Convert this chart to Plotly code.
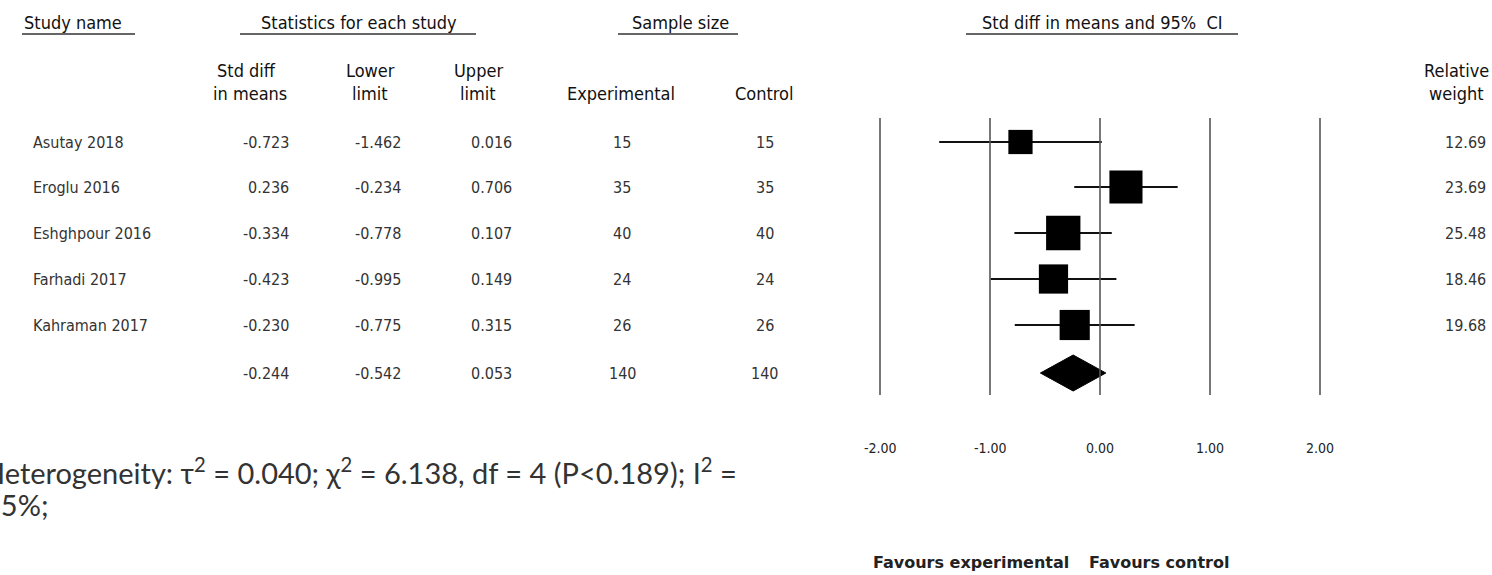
import plotly.graph_objects as go

# ---------------- data ----------------
studies = ["Asutay 2018", "Eroglu 2016", "Eshghpour 2016", "Farhadi 2017", "Kahraman 2017"]
std_diff = [-0.723, 0.236, -0.334, -0.423, -0.230]
lower = [-1.462, -0.234, -0.778, -0.995, -0.775]
upper = [0.016, 0.706, 0.107, 0.149, 0.315]
n_exp = [15, 35, 40, 24, 26]
n_ctl = [15, 35, 40, 24, 26]
rel_weight = [12.69, 23.69, 25.48, 18.46, 19.68]

total_est = -0.244
total_lower = -0.542
total_upper = 0.053
total_exp = 140
total_ctl = 140

tick_vals = [-2, -1, 0, 1, 2]
tick_text = ["-2.00", "-1.00", "0.00", "1.00", "2.00"]

heterogeneity_1 = "Heterogeneity: τ<sup>2</sup> = 0.040; χ<sup>2</sup> = 6.138, df = 4 (P&lt;0.189); I<sup>2</sup> ="
heterogeneity_2 = "35%;"

# ---------------- layout constants (pixels) ----------------
W, H = 1492, 575
X0_PX, UNIT_PX = 1100, 110           # pixel of 0.00 and pixels per unit on effect axis
row_y = [142, 187, 233, 279, 325, 373]  # study rows + total row

TXT = "DejaVu Sans Condensed, Liberation Sans, Arial, sans-serif"
col_txt = "#333333"

def px(x):
    return x / W

fig = go.Figure()

# vertical reference lines
shapes = []
for t in tick_vals:
    shapes.append(dict(type="line", xref="x", yref="y", x0=t, x1=t, y0=118, y1=395,
                       line=dict(color="#555555", width=1.6)))

# header underlines
for a, b in [(22, 135), (240, 476), (618, 738), (966, 1238)]:
    shapes.append(dict(type="line", xref="paper", yref="y", x0=px(a), x1=px(b), y0=34, y1=34,
                       line=dict(color="#666666", width=2)))

# CI lines
for i in range(len(studies)):
    fig.add_trace(go.Scatter(x=[lower[i], upper[i]], y=[row_y[i], row_y[i]], mode="lines",
                             line=dict(color="#111111", width=2), hoverinfo="skip", showlegend=False))

# squares sized by weight
sizes = [6.8 * (w ** 0.5) for w in rel_weight]
fig.add_trace(go.Scatter(x=std_diff, y=row_y[:5], mode="markers",
                         marker=dict(symbol="square", size=sizes, color="#000000", opacity=1,
                                     line=dict(width=0)),
                         showlegend=False))

# summary diamond
dy = 18
fig.add_trace(go.Scatter(x=[total_lower, total_est, total_upper, total_est, total_lower],
                         y=[row_y[5], row_y[5] - dy, row_y[5], row_y[5] + dy, row_y[5]],
                         mode="lines", fill="toself", fillcolor="#000000",
                         line=dict(color="#000000", width=1), showlegend=False))

ann = []
def add(text, x, y, size=16, anchor="center", color=col_txt, family=TXT, xref="paper", weight=None):
    f = dict(size=size, color=color, family=family)
    if weight:
        f["weight"] = weight
    ann.append(dict(text=text, x=px(x) if xref == "paper" else x, y=y, xref=xref, yref="y",
                    xanchor=anchor, yanchor="middle", showarrow=False, font=f))

# headers
hcol = "#111111"
add("Study name", 22, 22, 18, "left", hcol)
add("Statistics for each study", 359, 22, 18, "center", hcol)
add("Sample size", 680, 22, 18, "center", hcol)
add("Std diff in means and 95%  CI", 1102, 22, 18, "center", hcol)

add("Std diff", 246, 70, 18, "center", hcol)
add("in means", 250, 93, 18, "center", hcol)
add("Lower", 370, 70, 18, "center", hcol)
add("limit", 370, 93, 18, "center", hcol)
add("Upper", 478, 70, 18, "center", hcol)
add("limit", 478, 93, 18, "center", hcol)
add("Experimental", 621, 93, 18, "center", hcol)
add("Control", 764, 93, 18, "center", hcol)
add("Relative", 1456, 70, 18, "center", hcol)
add("weight", 1456, 93, 18, "center", hcol)

# rows
for i, s in enumerate(studies):
    y = row_y[i]
    add(s, 31, y, 16, "left")
    add(f"{std_diff[i]:.3f}", 291, y, 16, "right")
    add(f"{lower[i]:.3f}", 403, y, 16, "right")
    add(f"{upper[i]:.3f}", 514, y, 16, "right")
    add(str(n_exp[i]), 622, y, 16, "center")
    add(str(n_ctl[i]), 765, y, 16, "center")
    add(f"{rel_weight[i]:.2f}", 1488, y, 16, "right")

y = row_y[5]
add(f"{total_est:.3f}", 291, y, 16, "right")
add(f"{total_lower:.3f}", 403, y, 16, "right")
add(f"{total_upper:.3f}", 514, y, 16, "right")
add(str(total_exp), 622, y, 16, "center")
add(str(total_ctl), 765, y, 16, "center")

# axis tick labels
for v, t in zip(tick_vals, tick_text):
    add(t, v, 448, 14, "center", "#222222", xref="x")

# heterogeneity
HF = "Lato, Open Sans, sans-serif"
add(heterogeneity_1, -19, 471, 29, "left", "#333333", family=HF)
add(heterogeneity_2, -18, 504, 29, "left", "#333333", family=HF)

# favours
add("Favours experimental", 871, 562, 16, "left", "#222222", family="DejaVu Sans, sans-serif", weight="bold")
add("Favours control", 1087, 562, 16, "left", "#222222", family="DejaVu Sans, sans-serif", weight="bold")

fig.update_layout(
    width=W, height=H,
    margin=dict(l=0, r=0, t=0, b=0),
    paper_bgcolor="white", plot_bgcolor="white",
    xaxis=dict(range=[(0 - X0_PX) / UNIT_PX, (W - X0_PX) / UNIT_PX], visible=False, fixedrange=True),
    yaxis=dict(range=[H, 0], visible=False, fixedrange=True),
    shapes=shapes, annotations=ann, showlegend=False,
)

fig.write_html("out.html", config={"displayModeBar": False},
               post_script="document.body.style.margin='0px';document.body.style.overflow='hidden';")
